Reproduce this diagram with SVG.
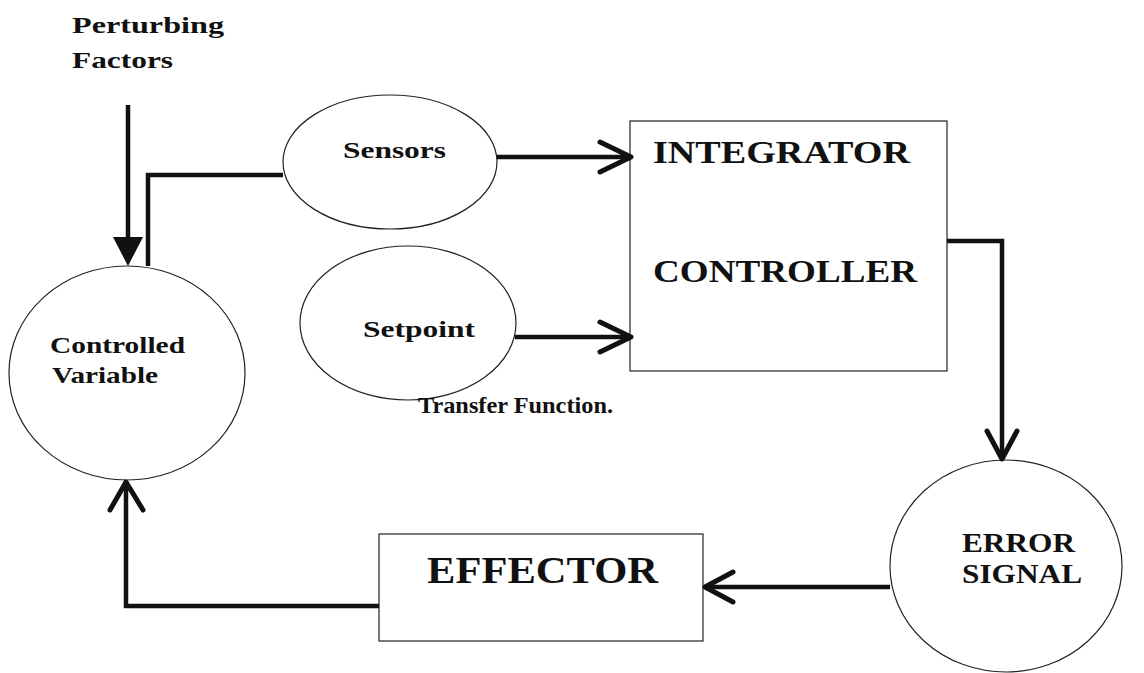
<svg xmlns="http://www.w3.org/2000/svg" width="1144" height="673" viewBox="0 0 1144 673">
<style>
.n{fill:#fff;stroke:#222;stroke-width:1.2}
.t{font-family:"Liberation Serif","Times New Roman",serif;font-weight:bold;fill:#111}
.c{fill:none;stroke:#111;stroke-width:4.5;stroke-linejoin:miter;stroke-linecap:butt}
.h{fill:none;stroke:#111;stroke-width:5;stroke-linecap:round;stroke-linejoin:round}
</style>
<rect width="1144" height="673" fill="#fff"/>
<g id="perturbing">
<text class="t" x="72" y="33" font-size="24" textLength="152" lengthAdjust="spacingAndGlyphs">Perturbing</text>
<text class="t" x="72" y="68" font-size="24" textLength="101" lengthAdjust="spacingAndGlyphs">Factors</text>
</g>
<g id="controlled">
<ellipse class="n" cx="127" cy="373" rx="118" ry="107"/>
<text class="t" x="50" y="353" font-size="24" textLength="135" lengthAdjust="spacingAndGlyphs">Controlled</text>
<text class="t" x="52" y="383" font-size="24" textLength="106" lengthAdjust="spacingAndGlyphs">Variable</text>
</g>
<g id="sensors">
<ellipse class="n" cx="390" cy="162" rx="107" ry="67"/>
<text class="t" x="343" y="158" font-size="24" textLength="103" lengthAdjust="spacingAndGlyphs">Sensors</text>
</g>
<g id="setpoint">
<ellipse class="n" cx="408" cy="323" rx="108" ry="77"/>
<text class="t" x="363" y="337" font-size="24" textLength="112" lengthAdjust="spacingAndGlyphs">Setpoint</text>
</g>
<g id="integrator">
<rect class="n" x="630" y="121" width="317" height="250"/>
<text class="t" x="653" y="163" font-size="32" textLength="257" lengthAdjust="spacingAndGlyphs">INTEGRATOR</text>
<text class="t" x="653" y="282" font-size="32" textLength="264" lengthAdjust="spacingAndGlyphs">CONTROLLER</text>
</g>
<g id="error">
<ellipse class="n" cx="1006" cy="566" rx="116" ry="106"/>
<text class="t" x="962" y="552" font-size="27" textLength="113" lengthAdjust="spacingAndGlyphs">ERROR</text>
<text class="t" x="962" y="583" font-size="27" textLength="120" lengthAdjust="spacingAndGlyphs">SIGNAL</text>
</g>
<g id="effector">
<rect class="n" x="379" y="534" width="324" height="107"/>
<text class="t" x="427" y="583" font-size="38" textLength="231" lengthAdjust="spacingAndGlyphs">EFFECTOR</text>
</g>
<g id="transfer">
<text class="t" x="418" y="413" font-size="24" textLength="195" lengthAdjust="spacingAndGlyphs">Transfer Function.</text>
</g>
<g id="connectors">
<line class="c" x1="128" y1="105" x2="128" y2="240"/>
<polygon points="113,237 143,237 128,266" fill="#111"/>
<polyline class="c" points="148,266 148,175 283,175"/>
<line class="c" x1="497" y1="157" x2="630" y2="157"/>
<polyline class="h" points="600,142 631,157 600,172"/>
<line class="c" x1="515" y1="337" x2="630" y2="337"/>
<polyline class="h" points="600,322 631,337 600,352"/>
<polyline class="c" points="947,241 1002,241 1002,459"/>
<polyline class="h" points="987,431 1002,459 1017,431"/>
<line class="c" x1="890" y1="587" x2="705" y2="587"/>
<polyline class="h" points="733,572 705,587 733,602"/>
<polyline class="c" points="379,606 126,606 126,482"/>
<polyline class="h" points="110,510 126,482 143,510"/>
</g>
</svg>
